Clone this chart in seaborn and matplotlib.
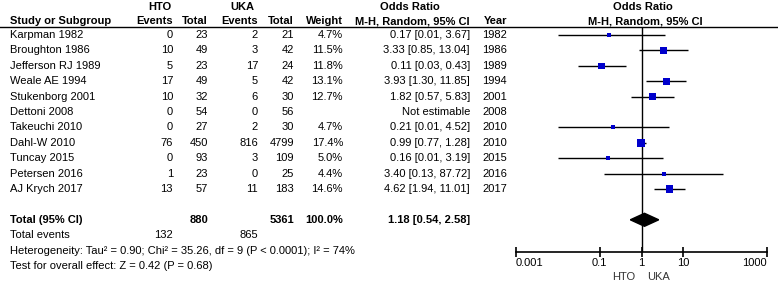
import matplotlib
matplotlib.use('Agg')
import matplotlib.pyplot as plt
import numpy as np
import pandas as pd
import seaborn as sns

studies = ['Karpman 1982', 'Broughton 1986', 'Jefferson RJ 1989', 'Weale AE 1994',
           'Stukenborg 2001', 'Dettoni 2008', 'Takeuchi 2010', 'Dahl-W 2010',
           'Tuncay 2015', 'Petersen 2016', 'AJ Krych 2017']
hto_events = [0, 10, 5, 17, 10, 0, 0, 76, 0, 1, 13]
hto_total = [23, 49, 23, 49, 32, 54, 27, 450, 93, 23, 57]
uka_events = [2, 3, 17, 5, 6, 0, 2, 816, 3, 0, 11]
uka_total = [21, 42, 24, 42, 30, 56, 30, 4799, 109, 25, 183]
weight = [4.7, 11.5, 11.8, 13.1, 12.7, np.nan, 4.7, 17.4, 5.0, 4.4, 14.6]
odds = [0.17, 3.33, 0.11, 3.93, 1.82, np.nan, 0.21, 0.99, 0.16, 3.40, 4.62]
ci_lo = [0.01, 0.85, 0.03, 1.30, 0.57, np.nan, 0.01, 0.77, 0.01, 0.13, 1.94]
ci_hi = [3.67, 13.04, 0.43, 11.85, 5.83, np.nan, 4.52, 1.28, 3.19, 87.72, 11.01]
years = [1982, 1986, 1989, 1994, 2001, 2008, 2010, 2010, 2015, 2016, 2017]

total_hto, total_uka = 880, 5361
total_or, total_lo, total_hi = 1.18, 0.54, 2.58
events_hto, events_uka = 132, 865
het_text = 'Heterogeneity: Tau² = 0.90; Chi² = 35.26, df = 9 (P < 0.0001); I² = 74%'
test_text = 'Test for overall effect: Z = 0.42 (P = 0.68)'
xticks = [0.001, 0.1, 1, 10, 1000]
xtick_labels = ['0.001', '0.1', '1', '10', '1000']

plt.rcParams['font.family'] = ['Liberation Sans', 'DejaVu Sans']
W, H = 778, 281
fig = plt.figure(figsize=(W / 100, H / 100), dpi=100)

# table part, in pixel coordinates
ax_t = fig.add_axes([0, 0, 1, 1])
ax_t.set_xlim(0, W)
ax_t.set_ylim(H, 0)
ax_t.axis('off')

fs = 8
row0, step = 35, 15.4
row_y = [row0 + i * step for i in range(len(studies))]
y_total = row0 + 12 * step

def t(x, y, s, ha='right', bold=False, **kw):
    ax_t.text(x, y, s, ha=ha, va='center', fontsize=fs,
              fontweight='bold' if bold else 'normal', **kw)

# headers
t(160, 7, 'HTO', ha='center', bold=True)
t(242, 7, 'UKA', ha='center', bold=True)
t(410, 7, 'Odds Ratio', ha='center', bold=True)
t(643, 7, 'Odds Ratio', ha='center', bold=True)
t(10, 21, 'Study or Subgroup', ha='left', bold=True)
t(173, 21, 'Events', bold=True)
t(208, 21, 'Total', bold=True)
t(258, 21, 'Events', bold=True)
t(294, 21, 'Total', bold=True)
t(343, 21, 'Weight', bold=True)
t(470, 21, 'M-H, Random, 95% CI', bold=True)
t(507, 21, 'Year', bold=True)
t(645, 21, 'M-H, Random, 95% CI', ha='center', bold=True)
ax_t.plot([0, W], [26.5, 26.5], color='black', lw=1)

for i, y in enumerate(row_y):
    t(10, y, studies[i], ha='left')
    t(173, y, str(hto_events[i]))
    t(208, y, str(hto_total[i]))
    t(258, y, str(uka_events[i]))
    t(294, y, str(uka_total[i]))
    if np.isnan(odds[i]):
        t(470, y, 'Not estimable')
    else:
        t(343, y, f'{weight[i]:.1f}%')
        t(470, y, f'{odds[i]:.2f} [{ci_lo[i]:.2f}, {ci_hi[i]:.2f}]')
    t(507, y, str(years[i]))

t(10, y_total, 'Total (95% CI)', ha='left', bold=True)
t(208, y_total, str(total_hto), bold=True)
t(294, y_total, str(total_uka), bold=True)
t(343, y_total, '100.0%', bold=True)
t(470, y_total, f'{total_or:.2f} [{total_lo:.2f}, {total_hi:.2f}]', bold=True)
t(10, row0 + 13 * step, 'Total events', ha='left')
t(173, row0 + 13 * step, str(events_hto))
t(258, row0 + 13 * step, str(events_uka))
t(10, row0 + 14 * step, het_text, ha='left')
t(10, row0 + 15 * step, test_text, ha='left')

# forest part
x0, x1, ytop, ybot = 516, 767, 26.5, 252
ax = fig.add_axes([x0 / W, (H - ybot) / H, (x1 - x0) / W, (ybot - ytop) / H])
ax.set_xscale('log')
ax.set_xlim(xticks[0], xticks[-1])
ax.set_ylim(ybot, ytop)
ax.patch.set_alpha(0)
for s in ['top', 'left', 'right']:
    ax.spines[s].set_visible(False)
ax.spines['bottom'].set_linewidth(1.2)
ax.set_yticks([])
ax.set_xticks(xticks)
ax.set_xticklabels(xtick_labels, fontsize=fs)
ax.minorticks_off()
ax.tick_params(axis='x', direction='inout', length=7, width=1.2, pad=1)
tl = ax.get_xticklabels()
tl[0].set_ha('left')
tl[-1].set_ha('right')

df = pd.DataFrame({'y': row_y, 'or': odds, 'lo': ci_lo, 'hi': ci_hi, 'w': weight}).dropna()
ax.hlines(df['y'], df['lo'], df['hi'], color='black', lw=1, zorder=2)
sns.scatterplot(data=df, x='or', y='y', size='w', sizes=(4.4 * 1.8, 17.4 * 1.8),
                size_norm=(4.4, 17.4), marker='s', color='#0000cc', linewidth=0,
                legend=False, ax=ax, zorder=3)
ax.axvline(1, color='black', lw=1, zorder=1)
ax.fill([total_lo, total_or, total_hi, total_or],
        [y_total, y_total - 6.5, y_total, y_total + 6.5], color='black', zorder=3)
ax.set_xlabel('')
ax.set_ylabel('')

t(635, 277, 'HTO', color='#333333')
t(647, 277, 'UKA', ha='left', color='#333333')

fig.savefig('out.png', dpi=100)
